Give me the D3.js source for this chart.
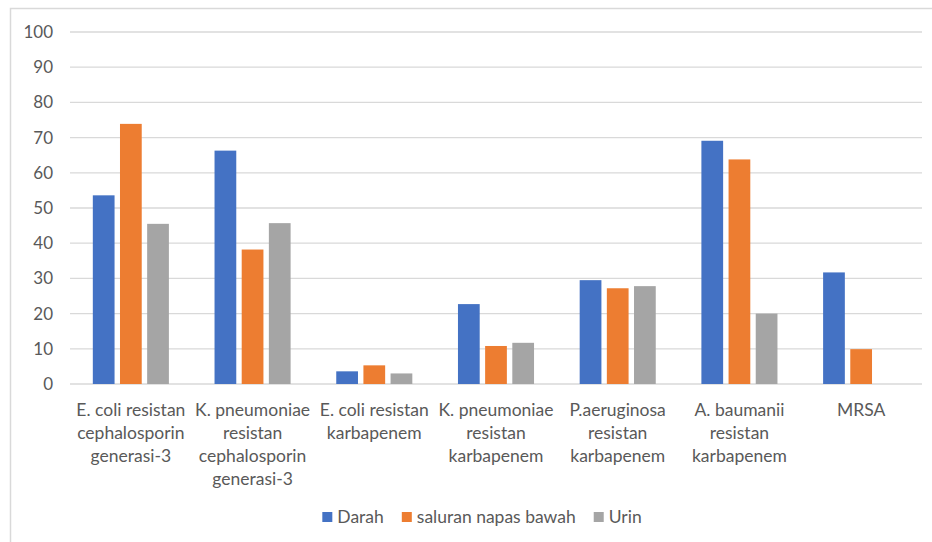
<!DOCTYPE html>
<html>
<head>
<meta charset="utf-8">
<script src="https://cdn.jsdelivr.net/npm/d3@7"></script>
<style>
  body { margin: 0; background: #fff; }
  text { font-family: Lato, "Open Sans", sans-serif; fill: #595959; }
</style>
</head>
<body>
<svg id="chart" width="932" height="542"></svg>
<script>
// --- data
const categories = [
  'E. coli resistan\ncephalosporin\ngenerasi-3',
  'K. pneumoniae\nresistan\ncephalosporin\ngenerasi-3',
  'E. coli resistan\nkarbapenem',
  'K. pneumoniae\nresistan\nkarbapenem',
  'P.aeruginosa\nresistan\nkarbapenem',
  'A. baumanii\nresistan\nkarbapenem',
  'MRSA'
]
const seriesNames = ['Darah', 'saluran napas bawah', 'Urin']
const darah = [53.6, 66.3, 3.6, 22.7, 29.5, 69.1, 31.7]
const saluran = [73.9, 38.2, 5.3, 10.8, 27.2, 63.8, 9.9]
const urin = [45.5, 45.7, 3.0, 11.7, 27.8, 20.0, 0]
const yTicks = [0, 10, 20, 30, 40, 50, 60, 70, 80, 90, 100]
const colors = ['#4472C4', '#ED7D31', '#A5A5A5']

const values = [darah, saluran, urin]
const rows = categories.map((c, i) => ({
  cat: c,
  vals: seriesNames.map((s, j) => ({series: s, v: values[j][i]}))
}))

const svg = d3.select('#chart')
const fontSize = 17.5

// chart frame (right and bottom edges are outside the picture)
svg.append('rect')
  .attr('x', 10.5).attr('y', 8.5)
  .attr('width', 940).attr('height', 560)
  .attr('fill', '#fff')
  .attr('stroke', '#d9d9d9')
  .attr('stroke-width', 1.5)

const y = d3.scaleLinear().domain([0, 100]).range([384, 32])
const x0 = d3.scaleBand()
  .domain(categories)
  .range([70, 922])
  .paddingInner(0.375)
  .paddingOuter(0.1875)
const x1 = d3.scaleBand()
  .domain(seriesNames)
  .range([0, x0.bandwidth()])
  .paddingInner(0.2)
const color = d3.scaleOrdinal().domain(seriesNames).range(colors)

// gridlines
svg.append('g')
  .selectAll('line')
  .data(yTicks)
  .join('line')
  .attr('x1', 70).attr('x2', 922)
  .attr('y1', d => y(d)).attr('y2', d => y(d))
  .attr('stroke', '#d9d9d9')
  .attr('stroke-width', 1.3)

// y tick labels
svg.append('g')
  .selectAll('text')
  .data(yTicks)
  .join('text')
  .attr('x', 53)
  .attr('y', d => y(d))
  .attr('dy', '0.35em')
  .attr('text-anchor', 'end')
  .style('font-size', '17px')
  .text(d => d)

// bars
const groups = svg.append('g')
  .selectAll('g')
  .data(rows)
  .join('g')
  .attr('transform', d => `translate(${x0(d.cat)},0)`)

groups.selectAll('rect')
  .data(d => d.vals.filter(e => e.v > 0))
  .join('rect')
  .attr('x', d => x1(d.series))
  .attr('width', x1.bandwidth())
  .attr('y', d => y(d.v))
  .attr('height', d => y(0) - y(d.v))
  .attr('fill', d => color(d.series))

// category labels, wrapped as in the original
const catLabels = svg.append('g')
  .selectAll('text')
  .data(categories)
  .join('text')
  .attr('text-anchor', 'middle')
  .style('font-size', fontSize + 'px')
  .attr('transform', d => `translate(${x0(d) + x0.bandwidth() / 2},416)`)

catLabels.selectAll('tspan')
  .data(d => d.split('\n'))
  .join('tspan')
  .attr('x', 0)
  .attr('y', (d, i) => i * 23)
  .text(d => d)

// legend, centred under the plot
const legend = svg.append('g').attr('transform', 'translate(0,517)')
const items = legend.selectAll('g')
  .data(seriesNames)
  .join('g')
items.append('rect')
  .attr('y', -5)
  .attr('width', 10).attr('height', 10)
  .attr('fill', d => color(d))
items.append('text')
  .attr('x', 15)
  .attr('dy', '0.35em')
  .style('font-size', fontSize + 'px')
  .text(d => d)

let cursor = 0
const offsets = []
items.each(function () {
  offsets.push(cursor)
  cursor += this.getBBox().width + 18
})
cursor -= 18
const start = 482 - cursor / 2
items.attr('transform', (d, i) => `translate(${start + offsets[i]},0)`)
</script>
</body>
</html>
